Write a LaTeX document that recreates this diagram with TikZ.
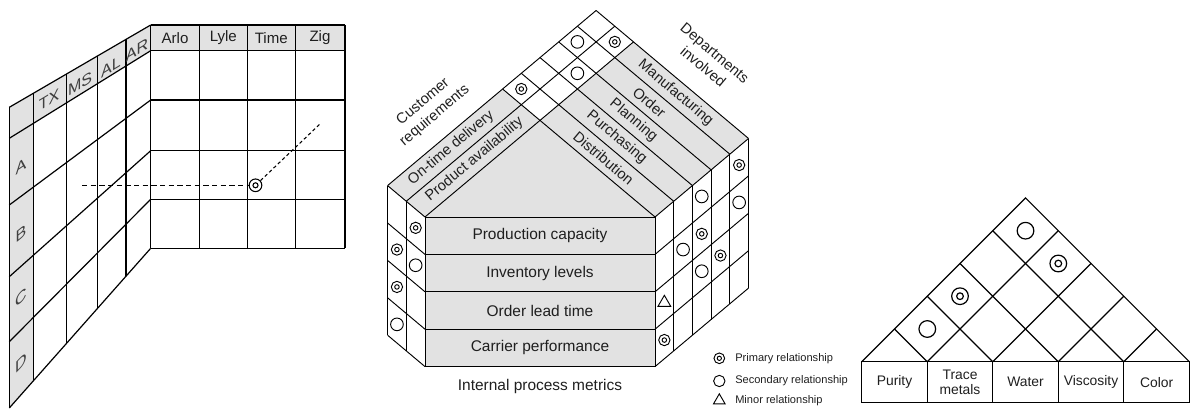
\documentclass[tikz,border=0pt]{standalone}
\usepackage{fontspec}
\setmainfont{Liberation Sans}
\usetikzlibrary{calc,shapes.geometric}
\definecolor{hqgray}{gray}{0.885}
\definecolor{ink}{gray}{0.12}
\tikzset{
  prim/.style={circle,draw,inner sep=0pt,minimum size=#1,fill=white,
     path picture={\draw (path picture bounding box.center) circle[radius=0.2*#1];}},
  sec/.style={circle,draw,inner sep=0pt,minimum size=#1},
  minor/.style={regular polygon,regular polygon sides=3,draw,inner sep=0pt,minimum size=#1},
  lbl/.style={font=\fontsize{11.3}{13}\selectfont,text=ink,inner sep=0pt},
  blbl/.style={font=\fontsize{11}{13.5}\selectfont,text=ink,inner sep=0pt,align=center},
  rowlbl/.style={font=\fontsize{11.6}{13}\selectfont,text=ink,inner sep=0pt},
  leg/.style={font=\fontsize{8.3}{10}\selectfont,text=ink,inner sep=0pt,anchor=west},
  trilbl/.style={font=\fontsize{10.4}{11.5}\selectfont,text=ink,inner sep=0pt,align=center},
  wl/.style={font=\fontsize{12}{14}\selectfont,text=ink!85,inner sep=0pt},
}
\begin{document}
\begin{tikzpicture}[x=0.75pt,y=-0.75pt]
\useasboundingbox (0,0) rectangle (1191,410);

%%%%%%%%%%%%%%%% LEFT : perspective matrix
\begin{scope}[line width=0.9pt]
\foreach \n/\y in {0/25,1/50.7,2/100,3/150.7,4/199.3,5/248.3} \coordinate (F\n) at (150.7,\y);
\foreach \n/\y in {0/107.3,1/138.3,2/205,3/276.7,4/341.7,5/408} \coordinate (L\n) at (9.3,\y);
% gray areas
\fill[hqgray] (F0) -- (F1) -- ($(F1)!0.83!(L1)$) -- ($(F0)!0.83!(L0)$) -- cycle;
\fill[hqgray] ($(F0)!0.83!(L0)$) -- (L0) -- (L5) -- ($(F5)!0.83!(L5)$) -- cycle;
\fill[hqgray] (150.7,25) rectangle (345,50.7);
% side wall lines
\foreach \n in {0,...,5} \draw (F\n) -- (L\n);
\foreach \q in {0.1747,0.3748,0.594,0.83,1} \draw ($(F0)!\q!(L0)$) -- ($(F5)!\q!(L5)$);
% front grid
\foreach \x in {150.7,199.3,247.3,295.3,345} \draw (\x,25) -- (\x,248.3);
\foreach \y in {25,50.7,100,150.7,199.3,248.3} \draw (150.7,\y) -- (345,\y);
\end{scope}
\node[lbl] (hArlo) at (175,38) {Arlo};
\node[lbl] (hLyle) at (223.3,38) {Lyle};
\node[lbl] (hTime) at (271.3,38) {Time};
\node[lbl] (hZig) at (320,38) {Zig};
\node[wl,yslant=0.6] (hTX) at (49,100) {TX};
\node[wl,yslant=0.6] (hMS) at (80,84) {MS};
\node[wl,yslant=0.6] (hAL) at (111,67) {AL};
\node[wl,yslant=0.6] (hAR) at (137,50) {AR};
\node[wl,yslant=0.68] (rA) at (21,166) {A};
\node[wl,yslant=0.82] (rB) at (21,234) {B};
\node[wl,yslant=0.95] (rC) at (21,298) {C};
\node[wl,yslant=1.07] (rD) at (21,363) {D};
\node[prim=9.5pt,line width=0.8pt] (lp) at (255.5,185.3) {};
\coordinate (dA) at (82,185.3);
\coordinate (dB) at (320,124);
\draw[dash pattern=on 4pt off 2.5pt,line width=0.8pt] (dA) -- (lp);
\draw[dash pattern=on 2.5pt off 2pt,line width=0.8pt] (lp) -- (dB);

%%%%%%%%%%%%%%%% MIDDLE : house
\begin{scope}[line width=0.7pt]
% front face
\fill[hqgray] (425,217) -- (540,120.4) -- (655,217) -- (655,366.6) -- (425,366.6) -- cycle;
\draw (425,217) rectangle (655,366.6);
\foreach \y in {254.4,291.8,329.2} \draw (425,\y) -- (655,\y);
% roof
\begin{scope}[shift={(540,120.4)},x={(14.025pt,11.775pt)},y={(-14.025pt,11.775pt)}]
 \fill[hqgray] (-6.15,0) -- (0,0) -- (0,2) -- (-6.15,2) -- cycle;
 \fill[hqgray] (0,-6.15) -- (5,-6.15) -- (5,0) -- (0,0) -- cycle;
 \foreach \i in {0,1,2} \draw (-6.15,\i) -- (5,\i);
 \foreach \k in {0,...,5} \draw (\k,-6.15) -- (\k,2);
 \node[prim=8.5pt] (c1) at (0.5,1.5) {};
 \node[sec=9.5pt] (c2) at (3.5,1.5) {};
 \node[prim=8.5pt] (c3) at (4.5,0.5) {};
 \node[sec=9.5pt] (c4) at (2.5,0.5) {};
 \node[blbl,rotate=40] (tPA) at (-3.0,0.5) {Product availability};
 \node[blbl,rotate=40] (tOD) at (-3.25,1.5) {On-time delivery};
 \node[blbl,rotate=-40] (tDi) at (0.5,-2.9) {Distribution};
 \node[blbl,rotate=-40] (tPu) at (1.5,-2.6) {Purchasing};
 \node[blbl,rotate=-40] (tPl) at (2.5,-2.5) {Planning};
 \node[blbl,rotate=-40] (tOr) at (3.5,-2.35) {Order};
 \node[blbl,rotate=-40] (tMa) at (4.5,-2.75) {Manufacturing};
\end{scope}
% left wall
\begin{scope}[shift={(425,217)},x={(-14.025pt,11.775pt)},y={(0pt,-28.05pt)}]
 \foreach \j in {0,1,2} \draw (\j,0) -- (\j,4);
 \foreach \r in {0,...,4} \draw (0,\r) -- (2,\r);
 \node[prim=8.5pt] (w1) at (0.5,0.5) {};
 \node[sec=9.5pt] (w2) at (0.5,1.5) {};
 \node[prim=8.5pt] (w3) at (1.5,1.5) {};
 \node[prim=8.5pt] (w4) at (1.5,2.5) {};
 \node[sec=9.5pt] (w5) at (1.5,3.5) {};
\end{scope}
% right wall
\begin{scope}[shift={(655,217)},x={(14.025pt,11.775pt)},y={(0pt,-28.05pt)}]
 \foreach \k in {0,...,5} \draw (\k,0) -- (\k,4);
 \foreach \r in {0,...,4} \draw (0,\r) -- (5,\r);
 \node[prim=8.5pt] (e1) at (4.5,0.5) {};
 \node[sec=9.5pt] (e2) at (4.5,1.5) {};
 \node[sec=9.5pt] (e3) at (2.5,0.5) {};
 \node[prim=8.5pt] (e4) at (2.5,1.5) {};
 \node[sec=9.5pt] (e5) at (1.5,1.5) {};
 \node[prim=8.5pt] (e6) at (3.5,2.5) {};
 \node[sec=9.5pt] (e7) at (2.5,2.5) {};
 \node[minor=11pt] (e8) at (0.5,2.5) {};
 \node[prim=8.5pt] (e9) at (0.5,3.5) {};
\end{scope}
\end{scope}
\node[rowlbl] (m1) at (540,235.7) {Production capacity};
\node[rowlbl] (m2) at (540,273.1) {Inventory levels};
\node[rowlbl] (m3) at (540,310.5) {Order lead time};
\node[rowlbl] (m4) at (540,347.9) {Carrier performance};
\node[rowlbl] (ipm) at (540,386) {Internal process metrics};
\node[blbl,rotate=40] (cr) at (429,109) {Customer\\requirements};
\node[blbl,rotate=-40] (di) at (709,60) {Departments\\involved};
% legend
\node[prim=8pt,line width=0.7pt] (g1) at (719.3,358.3) {};
\node[sec=8.5pt,line width=0.7pt] (g2) at (719.3,381) {};
\node[minor=10pt,line width=0.7pt] (g3) at (719.3,400.5) {};
\node[leg] (g1t) at (735,358.3) {Primary relationship};
\node[leg] (g2t) at (735,381) {Secondary relationship};
\node[leg] (g3t) at (735,401) {Minor relationship};

%%%%%%%%%%%%%%%% RIGHT : correlation roof
\begin{scope}[line width=0.9pt]
\draw (861.7,361.7) -- (1025.5,197.9) -- (1189.3,361.7);
\draw (861.7,361.7) rectangle (1189.3,402.7);
\foreach \j in {1,2,3,4} {
  \draw ({861.7+65.52*\j},361.7) -- ({861.7+65.52*\j},402.7);
  \draw ({861.7+65.52*\j},361.7) -- ++({-32.76*\j},{-32.76*\j});
  \draw ({861.7+65.52*\j},361.7) -- ++({32.76*(5-\j)},{-32.76*(5-\j)});
}
\node[sec=12.5pt] (t1) at (927.3,329) {};
\node[prim=12.5pt] (t2) at (960,296.2) {};
\node[sec=12.5pt] (t3) at (1025.5,230.7) {};
\node[prim=12.5pt] (t4) at (1058.3,263.5) {};
\end{scope}
\node[trilbl] (b1) at (894.5,382.2) {Purity};
\node[trilbl] (b2) at (960,382.2) {Trace\\metals};
\node[trilbl] (b3) at (1025.5,382.2) {Water};
\node[trilbl] (b4) at (1091,382.2) {Viscosity};
\node[trilbl] (b5) at (1156.7,382.2) {Color};
\end{tikzpicture}
\end{document}
